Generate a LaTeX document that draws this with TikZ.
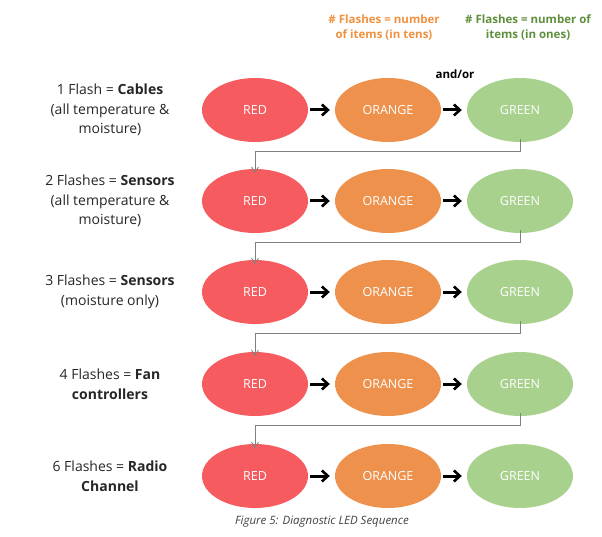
\documentclass[tikz,border=0pt]{standalone}
\usepackage{fontspec}
\setmainfont{Open Sans}
\usetikzlibrary{shapes.geometric,arrows.meta}
\definecolor{cred}{HTML}{F65C5F}
\definecolor{corange}{HTML}{EE914D}
\definecolor{cgreen}{HTML}{A9D18E}
\definecolor{horange}{HTML}{F0913F}
\definecolor{hgreen}{HTML}{5E8F3C}
\begin{document}
\begin{tikzpicture}[x=1pt,y=-1pt,
  led/.style={ellipse,minimum width=106pt,minimum height=64pt,inner sep=0pt,text=white,font=\fontsize{12.5}{14}\selectfont},
  nextarrow/.style={-{Straight Barb[length=6pt,width=11pt,line width=2.6pt]},line width=3pt,black},
  link/.style={draw=gray,line width=0.8pt,-{Straight Barb[length=5pt,width=7pt]}},
  lbl/.style={align=center,font=\fontsize{14}{19.5}\selectfont,text=black!85},
  hdr/.style={align=center,font=\bfseries\fontsize{11.5}{15}\selectfont}]
\useasboundingbox (0,0) rectangle (602,537);
\node[hdr,text=horange] (h1) at (384,28) {\# Flashes = number\\of items (in tens)};
\node[hdr,text=hgreen] (h2) at (528,28) {\# Flashes = number of\\items (in ones)};
\node[hdr,text=black] (ao) at (455,74) {and/or};
\foreach \i/\y/\t in {1/110/{1 Flash = \textbf{Cables}\\(all temperature \&\\moisture)},
  2/201/{2 Flashes = \textbf{Sensors}\\(all temperature \&\\moisture)},
  3/292/{3 Flashes = \textbf{Sensors}\\(moisture only)},
  4/384/{4 Flashes = \textbf{Fan}\\\textbf{controllers}},
  5/476/{6 Flashes = \textbf{Radio}\\\textbf{Channel}}}{
  \node[lbl] (l\i) at (110,\y) {\t};
  \node[led,fill=cred] (r\i) at (255,\y) {RED};
  \node[led,fill=corange] (o\i) at (388,\y) {ORANGE};
  \node[led,fill=cgreen] (g\i) at (520,\y) {GREEN};
  \draw[nextarrow] ([xshift=2pt]r\i.east) -- ([xshift=-5pt]o\i.west);
  \draw[nextarrow] ([xshift=2pt]o\i.east) -- ([xshift=-5pt]g\i.west);
}
\foreach \a/\b in {1/2,2/3,3/4,4/5}{
  \draw[link] ([yshift=3pt]g\a.south) -- ++(0,12) -| ([yshift=-4pt]r\b.north);
}
\node[font=\itshape\fontsize{11.5}{13}\selectfont,text=black!75] (cap) at (322,522) {Figure 5: Diagnostic LED Sequence};
\end{tikzpicture}
\end{document}
